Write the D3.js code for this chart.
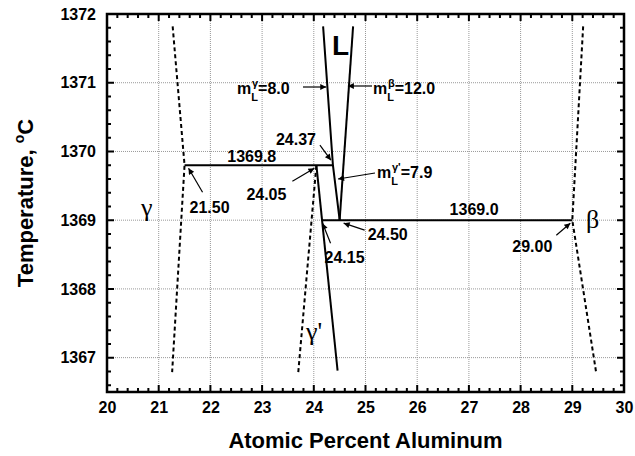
<html>
<head>
<style>
  body { margin: 0; background: #fff; }
  text { font-family: "Liberation Sans", Arial, sans-serif; font-weight: bold; }
  .greek { font-family: "Liberation Serif", "Times New Roman", serif; font-weight: normal; }
</style>
</head>
<body>
<svg id="chart"></svg>
<script src="https://cdn.jsdelivr.net/npm/d3@7"></script>
<script>

let width = 635;
let height = 456;
let margin = {top: 14, right: 11, bottom: 64, left: 107};

// axis values
let xTicks = [20, 21, 22, 23, 24, 25, 26, 27, 28, 29, 30];
let yTicks = [1367, 1368, 1369, 1370, 1371, 1372];

// phase boundaries, [at% Al, temperature]
let gammaSolvus = [[21.27, 1371.82], [21.50, 1369.8], [21.26, 1366.79]];
let gammaPrimeSolvus = [[23.70, 1366.79], [24.05, 1369.8]];
let gammaPrimeLine = [[24.05, 1369.8], [24.46, 1366.81]];
let liquidusGamma = [[24.18, 1371.82], [24.37, 1369.8], [24.50, 1369.0]];
let liquidusBeta = [[24.76, 1371.82], [24.50, 1369.0]];
let betaSolvus = [[29.21, 1371.82], [29.00, 1369.0], [29.46, 1366.79]];
let reaction1 = [[21.50, 1369.8], [24.37, 1369.8]];
let reaction2 = [[24.15, 1369.0], [29.00, 1369.0]];

// annotated points: label, x, T
let pointLabels = ["21.50", "24.05", "24.37", "24.50", "24.15", "29.00"];
let pointX = [21.50, 24.05, 24.37, 24.50, 24.15, 29.00];
let pointT = [1369.8, 1369.8, 1369.8, 1369.0, 1369.0, 1369.0];

let svg = d3.select("#chart")
    .attr("width", width)
    .attr("height", height);

let x = d3.scaleLinear().domain([20, 30]).range([margin.left, width - margin.right]);
let y = d3.scaleLinear().domain([1366.5, 1372]).range([height - margin.bottom, margin.top]);

let bottom = height - margin.bottom;
let right = width - margin.right;

// grid
let grid = svg.append("g");
grid.selectAll(".gx")
    .data(xTicks.slice(1, -1))
    .enter().append("line")
    .attr("x1", d => x(d)).attr("x2", d => x(d))
    .attr("y1", y(1366.5)).attr("y2", y(1372))
    .attr("stroke", "#999").attr("stroke-width", 1).attr("stroke-dasharray", "1,1");
grid.selectAll(".gy")
    .data(yTicks.slice(0, -1))
    .enter().append("line")
    .attr("y1", d => y(d)).attr("y2", d => y(d))
    .attr("x1", x(20)).attr("x2", x(30))
    .attr("stroke", "#999").attr("stroke-width", 1).attr("stroke-dasharray", "1,1");

// frame
svg.append("path")
    .attr("d", `M${margin.left},${margin.top}H${right}V${bottom}H${margin.left}Z`)
    .attr("fill", "none").attr("stroke", "#000").attr("stroke-width", 2.5);

// ticks, all pointing inward
let xMinor = d3.range(20, 30.001, 0.2).filter(d => Math.abs(d - Math.round(d)) > 0.01);
let yMinor = d3.range(1366.6, 1372.001, 0.2).filter(d => Math.abs(d - Math.round(d)) > 0.01);

let tickPath = d3.path();
function xTickMarks(vals, len) {
    vals.forEach(d => {
        tickPath.moveTo(x(d), bottom); tickPath.lineTo(x(d), bottom - len);
        tickPath.moveTo(x(d), margin.top); tickPath.lineTo(x(d), margin.top + len);
    });
}
function yTickMarks(vals, len) {
    vals.forEach(d => {
        tickPath.moveTo(margin.left, y(d)); tickPath.lineTo(margin.left + len, y(d));
        tickPath.moveTo(right, y(d)); tickPath.lineTo(right - len, y(d));
    });
}
xTickMarks(xTicks, 7);
xTickMarks(xMinor, 4);
yTickMarks(yTicks, 7);
yTickMarks(yMinor, 4);
svg.append("path").attr("d", tickPath.toString())
    .attr("fill", "none").attr("stroke", "#000").attr("stroke-width", 2);

// tick labels
svg.append("g").attr("transform", `translate(0,${bottom})`)
    .call(d3.axisBottom(x).tickValues(xTicks).tickFormat(d3.format("d")).tickSize(0).tickPadding(10))
    .call(g => g.select(".domain").remove())
    .selectAll("text").attr("font-size", 16).attr("fill", "#000")
    .style("font-family", "'Liberation Sans', Arial, sans-serif").style("font-weight", "bold");

svg.append("g").attr("transform", `translate(${margin.left},0)`)
    .call(d3.axisLeft(y).tickValues(yTicks).tickFormat(d3.format("d")).tickSize(0).tickPadding(11))
    .call(g => g.select(".domain").remove())
    .selectAll("text").attr("font-size", 16).attr("fill", "#000")
    .style("font-family", "'Liberation Sans', Arial, sans-serif").style("font-weight", "bold");

// boundaries
let line = d3.line().x(d => x(d[0])).y(d => y(d[1]));

let dashed = [gammaSolvus, gammaPrimeSolvus, betaSolvus];
let solid = [gammaPrimeLine, liquidusGamma, liquidusBeta, reaction1, reaction2];

svg.selectAll(".dashed")
    .data(dashed)
    .enter().append("path")
    .attr("d", line)
    .attr("fill", "none").attr("stroke", "#000").attr("stroke-width", 2)
    .attr("stroke-dasharray", "4,3");

svg.selectAll(".solid")
    .data(solid)
    .enter().append("path")
    .attr("d", line)
    .attr("fill", "none").attr("stroke", "#000").attr("stroke-width", 2);

// arrowheads
svg.append("defs").append("marker")
    .attr("id", "head")
    .attr("viewBox", "0 0 10 10")
    .attr("refX", 10).attr("refY", 5)
    .attr("markerWidth", 8).attr("markerHeight", 6)
    .attr("markerUnits", "userSpaceOnUse")
    .attr("orient", "auto")
    .append("path").attr("d", "M0,0L10,5L0,10Z").attr("fill", "#000");

function arrow(x1, y1, x2, y2) {
    svg.append("line")
        .attr("x1", x1).attr("y1", y1).attr("x2", x2).attr("y2", y2)
        .attr("stroke", "#000").attr("stroke-width", 1.2)
        .attr("marker-end", "url(#head)");
}

function label(txt, tx, ty, size) {
    return svg.append("text").attr("x", tx).attr("y", ty)
        .attr("font-size", size || 16).text(txt);
}

// composition labels with arrows, offsets in px from the marked point
let labelDx = [5, -70, -57, 28, 3, -60];
let labelDy = [48, 35, -20, 20, 43, 32];
let tailDx = [18, -24, -13, 25, 9, -16];
let tailDy = [27, 16, -20, 10, 23, 15];
let headDx = [4, -2, -2, 4, 1, -2];
let headDy = [3, 3, -5, 3, 3, 3];

pointLabels.forEach((t, i) => {
    let px = x(pointX[i]), py = y(pointT[i]);
    label(t, px + labelDx[i], py + labelDy[i]);
    arrow(px + tailDx[i], py + tailDy[i], px + headDx[i], py + headDy[i]);
});

// temperature labels
label("1369.8", x(22.8), y(1369.8) - 3).attr("text-anchor", "middle");
label("1369.0", x(27.1), y(1369.0) - 5).attr("text-anchor", "middle");

// slopes
function slope(tx, ty, sup, val) {
    let t = svg.append("text").attr("x", tx).attr("y", ty).attr("font-size", 16);
    t.append("tspan").text("m");
    t.append("tspan").attr("font-size", 11).attr("dy", 7).text("L");
    t.append("tspan").attr("font-size", 11).attr("dx", -6).attr("dy", -14).text(sup);
    t.append("tspan").attr("dy", 7).text("=" + val);
    return t;
}
slope(237, 94, "γ", "8.0");
arrow(303, 87, x(24.26) - 1, 87);
slope(373, 94, "β", "12.0");
arrow(372, 86, x(24.64) + 1, 86);
slope(377, 178, "γ'", "7.9");
arrow(375, 173, x(24.45) + 1, 179);

// phase labels
label("L", 332, 55, 28);
svg.append("text").attr("class", "greek").attr("x", 141).attr("y", 216).attr("font-size", 26).text("γ");
svg.append("text").attr("class", "greek").attr("x", 306).attr("y", 340).attr("font-size", 26).text("γ'");
svg.append("text").attr("class", "greek").attr("x", 586).attr("y", 228).attr("font-size", 26).text("β");

// axis titles
svg.append("text")
    .attr("x", (margin.left + right) / 2).attr("y", 448)
    .attr("text-anchor", "middle").attr("font-size", 22)
    .text("Atomic Percent Aluminum");

let yt = svg.append("text")
    .attr("transform", `translate(33,${(margin.top + bottom) / 2}) rotate(-90)`)
    .attr("text-anchor", "middle").attr("font-size", 22);
yt.append("tspan").text("Temperature, ");
yt.append("tspan").attr("font-size", 14).attr("dy", -9).text("o");
yt.append("tspan").attr("dy", 9).text("C");

</script>
</body>
</html>
